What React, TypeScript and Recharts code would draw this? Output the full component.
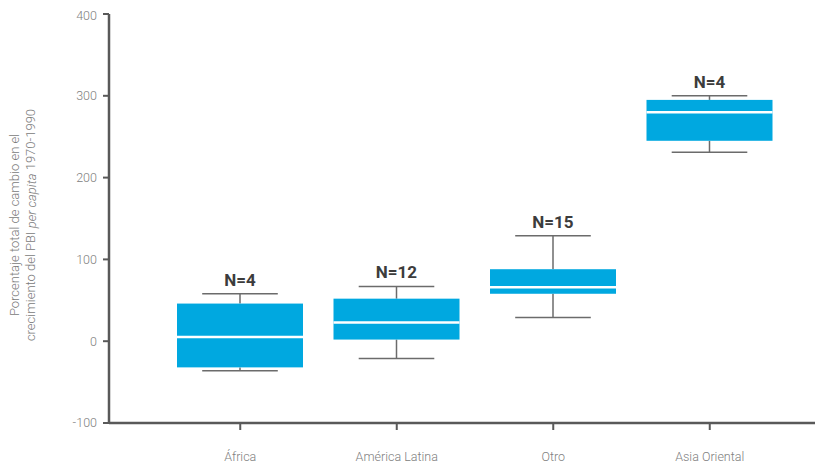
import React from "react";
import { ComposedChart, Bar, XAxis, YAxis } from "recharts";

const categories = ["África", "América Latina", "Otro", "Asia Oriental"];
const minValues = [-36, -21, 29, 231];
const q1Values = [-32, 2, 58, 245];
const medianValues = [5, 23, 66, 280];
const q3Values = [46, 52, 88, 295];
const maxValues = [58, 67, 129, 300];
const nLabels = ["N=4", "N=12", "N=15", "N=4"];
const yTicks = [-100, 0, 100, 200, 300, 400];

const data = categories.map((name, i) => ({
  name,
  min: minValues[i],
  q1: q1Values[i],
  median: medianValues[i],
  q3: q3Values[i],
  max: maxValues[i],
  n: nLabels[i],
}));

const BOX_COLOR = "#00A8E0";
const WHISKER = "#6b6b6b";
const AXIS = "#595959";
const FONT = "Roboto, 'DejaVu Sans', sans-serif";

const BoxShape = (props: any) => {
  const { x, y, width, height, payload } = props;
  if (!payload) return null;
  const top = Math.min(y, y + height);
  const bottom = Math.max(y, y + height);
  const span = payload.max - payload.min;
  const px = (v: number) => bottom - ((v - payload.min) / span) * (bottom - top);
  const cx = x + width / 2;
  const capHalf = width * 0.3;
  const yMax = px(payload.max);
  const yMin = px(payload.min);
  const yQ3 = px(payload.q3);
  const yQ1 = px(payload.q1);
  const yMed = px(payload.median);
  return (
    <g>
      <line x1={cx} x2={cx} y1={yMax} y2={yQ3} stroke={WHISKER} strokeWidth={1.5} />
      <line x1={cx} x2={cx} y1={yQ1} y2={yMin} stroke={WHISKER} strokeWidth={1.5} />
      <line x1={cx - capHalf} x2={cx + capHalf} y1={yMax} y2={yMax} stroke={WHISKER} strokeWidth={1.5} />
      <line x1={cx - capHalf} x2={cx + capHalf} y1={yMin} y2={yMin} stroke={WHISKER} strokeWidth={1.5} />
      <rect x={x} y={yQ3} width={width} height={yQ1 - yQ3} fill={BOX_COLOR} />
      <line x1={x} x2={x + width} y1={yMed} y2={yMed} stroke="#ffffff" strokeWidth={2.5} />
      <text
        x={cx}
        y={yMax - 8}
        textAnchor="middle"
        fontFamily={FONT}
        fontWeight={700}
        fontSize={17}
        fill="#3c3c3c"
      >
        {payload.n}
      </text>
    </g>
  );
};

const YLabel = () => (
  <g>
    <text
      transform="translate(6.5,217) rotate(-90)"
      textAnchor="middle"
      dominantBaseline="central"
      fontFamily={FONT}
      fontWeight={300}
      fontSize={13}
      fill="#7a7a7a"
    >
      Porcentaje total de cambio en el
    </text>
    <text
      transform="translate(22.5,217) rotate(-90)"
      textAnchor="middle"
      dominantBaseline="central"
      fontFamily={FONT}
      fontWeight={300}
      fontSize={13}
      fill="#7a7a7a"
    >
      crecimiento del PBI <tspan fontStyle="italic">per capita</tspan> 1970-1990
    </text>
  </g>
);

export default function App() {
  return (
    <ComposedChart
      width={815}
      height={459}
      data={data}
      margin={{ top: 6, right: 0, left: 0, bottom: 4 }}
    >
      <XAxis
        dataKey="name"
        height={40}
        padding={{ left: 53, right: 35 }}
        axisLine={{ stroke: AXIS, strokeWidth: 2.5 }}
        tickLine={{ stroke: AXIS, strokeWidth: 2 }}
        tickSize={7}
        tickMargin={22}
        tick={{ fill: "#808080", fontSize: 12.5, fontFamily: FONT, fontWeight: 300 }}
        interval={0}
      />
      <YAxis
        width={101}
        domain={[-100, 400]}
        ticks={yTicks}
        type="number"
        allowDataOverflow
        axisLine={{ stroke: AXIS, strokeWidth: 2.5 }}
        tickLine={{ stroke: AXIS, strokeWidth: 2 }}
        tickSize={6}
        tickMargin={6}
        tick={{ fill: "#808080", fontSize: 12.5, fontFamily: FONT, fontWeight: 300 }}
        label={{ content: () => <YLabel /> }}
      />
      <Bar
        dataKey={(d: any) => [d.min, d.max]}
        barSize={126}
        shape={<BoxShape />}
        activeBar={false}
        isAnimationActive={false}
      />
    </ComposedChart>
  );
}
